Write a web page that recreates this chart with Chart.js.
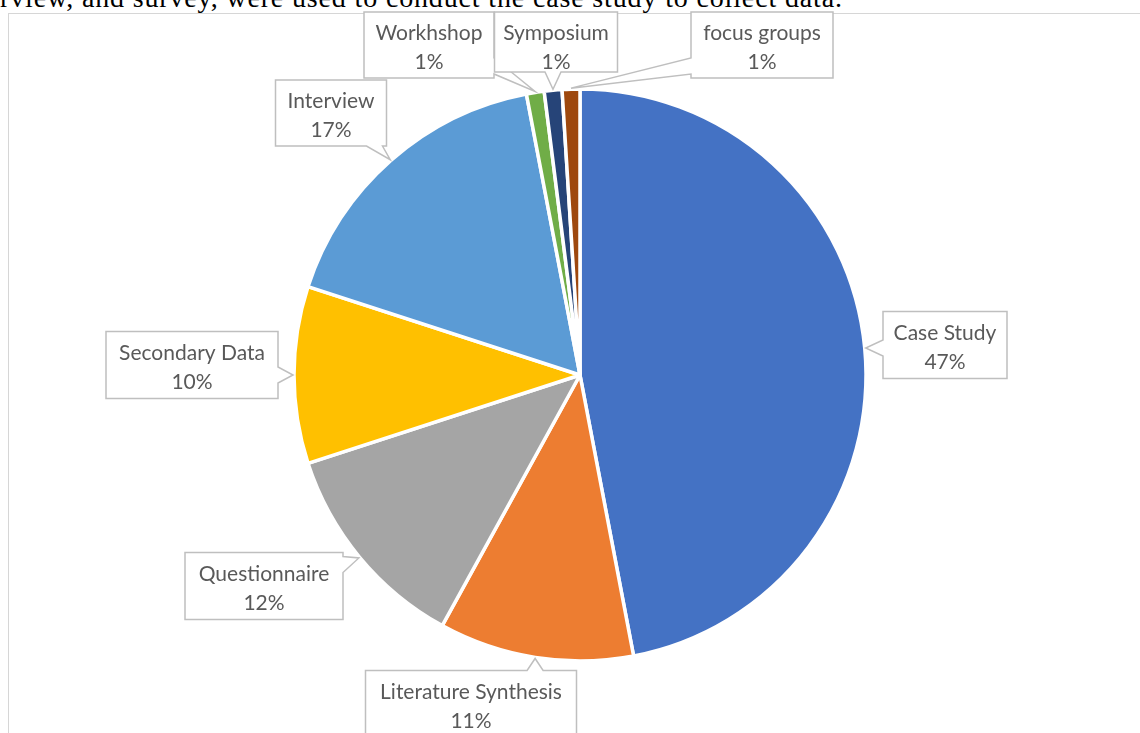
<!DOCTYPE html>
<html>
<head>
<meta charset="utf-8">
<script src="https://cdn.jsdelivr.net/npm/chart.js@4.4.0/dist/chart.umd.min.js"></script>
<style>
  body { margin: 0; background: #fff; overflow: hidden; }
  #page { position: relative; width: 1140px; height: 733px; overflow: hidden; }
  #caption {
    position: absolute; left: 0; top: -16.5px; white-space: nowrap;
    font-family: "Liberation Serif", serif; font-size: 28px; line-height: 28px;
    letter-spacing: 0.85px; color: #000;
  }
  #frame {
    position: absolute; left: 8px; top: 13px; right: -10px; bottom: -10px;
    border-left: 1.5px solid #d6d6d6; border-top: 1.5px solid #d6d6d6;
  }
  #wrap { position: absolute; left: 0; top: 0; width: 1140px; height: 733px; }
</style>
</head>
<body>
<div id="page">
  <div id="caption">rview, and survey, were used to conduct the case study to collect data.</div>
  <div id="frame"></div>
  <div id="wrap"><canvas id="pieChart"></canvas></div>
</div>
<script>
  // chart data
  var categories = ['Case Study', 'Literature Synthesis', 'Questionnaire', 'Secondary Data',
                    'Interview', 'Workhshop', 'Symposium', 'focus groups'];
  var shares = [47, 11, 12, 10, 17, 1, 1, 1];
  var sliceColors = ['#4472C4', '#ED7D31', '#A5A5A5', '#FFC000',
                     '#5B9BD5', '#70AD47', '#264478', '#9E480E'];

  // callout boxes: centre x, centre y, width, height, text centre y (px)
  var labelBoxes = [
      [945, 345, 124, 67, 345],
      [471, 704, 211, 67, 704],
      [264, 586, 158, 67, 586],
      [192, 365, 172, 67, 365],
      [331, 113, 111, 66, 113],
      [429, 45, 130, 66, 45],
      [556, 42, 123, 60, 45],
      [762, 45, 142, 66, 45]
  ];

  function drawCallout(ctx, box, tip) {
      var l = box[0] - box[2] / 2, r = box[0] + box[2] / 2;
      var t = box[1] - box[3] / 2, b = box[1] + box[3] / 2;
      var hw = 8;
      var side = null, best = 0;
      if (l - tip.x > best) { best = l - tip.x; side = 'left'; }
      if (tip.x - r > best) { best = tip.x - r; side = 'right'; }
      if (t - tip.y > best) { best = t - tip.y; side = 'top'; }
      if (tip.y - b > best) { best = tip.y - b; side = 'bottom'; }
      function clamp(v, a, c) { return Math.max(a, Math.min(c, v)); }

      ctx.beginPath();
      ctx.moveTo(l, t);
      if (side === 'top') {
          var c = clamp(tip.x, l + hw + 4, r - hw - 4);
          ctx.lineTo(c - hw, t); ctx.lineTo(tip.x, tip.y); ctx.lineTo(c + hw, t);
      }
      ctx.lineTo(r, t);
      if (side === 'right') {
          var c = clamp(tip.y, t + hw + 4, b - hw - 4);
          ctx.lineTo(r, c - hw); ctx.lineTo(tip.x, tip.y); ctx.lineTo(r, c + hw);
      }
      ctx.lineTo(r, b);
      if (side === 'bottom') {
          var c = clamp(tip.x, l + hw + 4, r - hw - 4);
          ctx.lineTo(c + hw, b); ctx.lineTo(tip.x, tip.y); ctx.lineTo(c - hw, b);
      }
      ctx.lineTo(l, b);
      if (side === 'left') {
          var c = clamp(tip.y, t + hw + 4, b - hw - 4);
          ctx.lineTo(l, c + hw); ctx.lineTo(tip.x, tip.y); ctx.lineTo(l, c - hw);
      }
      ctx.closePath();
      ctx.fillStyle = '#ffffff';
      ctx.fill();
      ctx.lineWidth = 1.5;
      ctx.strokeStyle = '#bfbfbf';
      ctx.stroke();
  }

  var calloutPlugin = {
      id: 'callouts',
      afterDatasetsDraw(chart) {
          var ctx = chart.ctx;
          var meta = chart.getDatasetMeta(0);
          var total = shares.reduce((a, v) => a + v, 0);
          ctx.save();
          meta.data.forEach((arc, i) => {
              var p = arc.getProps(['x', 'y', 'startAngle', 'endAngle', 'outerRadius'], true);
              var mid = (p.startAngle + p.endAngle) / 2;
              var tip = {
                  x: p.x + Math.cos(mid) * (p.outerRadius + 1),
                  y: p.y + Math.sin(mid) * (p.outerRadius + 1)
              };
              var box = labelBoxes[i];
              drawCallout(ctx, box, tip);
              ctx.fillStyle = '#595959';
              ctx.font = '21px Lato';
              ctx.textAlign = 'center';
              ctx.textBaseline = 'middle';
              ctx.fillText(categories[i], box[0], box[4] - 12);
              ctx.fillText(Math.round(shares[i] / total * 100) + '%', box[0], box[4] + 17);
          });
          ctx.restore();
      }
  };

  var ctx = document.getElementById('pieChart').getContext('2d');
  var myChart = new Chart(ctx, {
      type: 'pie',
      data: {
          labels: categories,
          datasets: [{
              data: shares,
              backgroundColor: sliceColors,
              borderColor: '#ffffff',
              borderWidth: 3.5,
              hoverOffset: 0,
              radius: 286
          }]
      },
      options: {
          responsive: true,
          maintainAspectRatio: false,
          animation: false,
          layout: { padding: { left: 294, right: 274, top: 89, bottom: 72 } },
          plugins: {
              legend: { display: false },
              tooltip: { enabled: false }
          }
      },
      plugins: [calloutPlugin]
  });
</script>
</body>
</html>
